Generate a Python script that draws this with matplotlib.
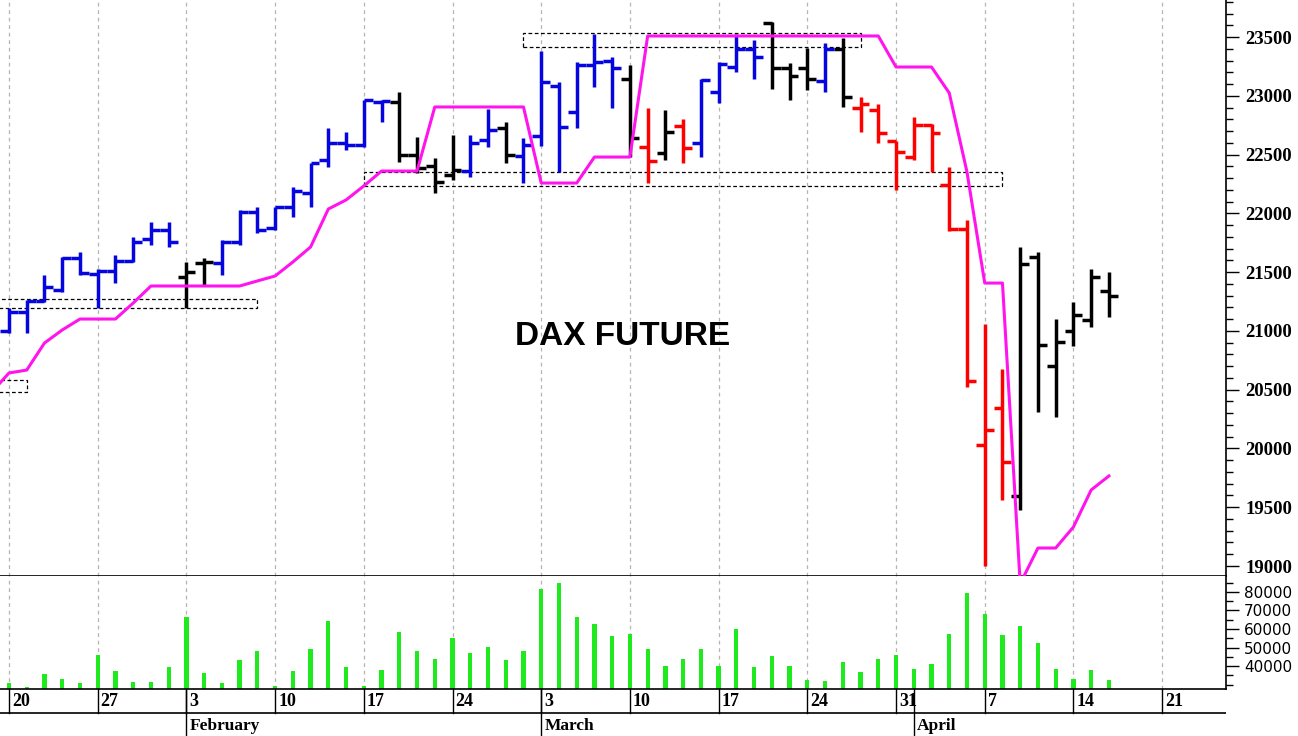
import numpy as np
import pandas as pd
import matplotlib
matplotlib.use('Agg')
import matplotlib.pyplot as plt
from matplotlib.patches import Rectangle
from matplotlib.ticker import MultipleLocator, FixedLocator

# trading days shown (data) and the axis range (to the week after)
dates = pd.bdate_range('2025-01-20', '2025-04-16')
axis_dates = pd.bdate_range('2025-01-20', '2025-04-25')

opens = [21000, 21160, 21255, 21350, 21620, 21480, 21510, 21595, 21780, 21858,
         21459, 21578, 21578, 21756, 22011, 21875, 22054, 22173, 22454, 22598,
         22581, 22947, 22947, 22496, 22403, 22326, 22360, 22624, 22726, 22488,
         22658, 23080, 22862, 23262, 23296, 23143, 22564, 22513, 22743, 22598,
         23032, 23245, 23398, 23620, 23236, 23236, 23126, 23398, 22896, 22879,
         22615, 22479, 22751, 22241, 21867, 20030, 20344, 19596, 21629, 20701,
         20999, 21093, 21340]
highs = [21195, 21263, 21476, 21629, 21671, 21527, 21646, 21799, 21926, 21926,
         21586, 21620, 21773, 22028, 22054, 22054, 22224, 22428, 22726, 22692,
         22964, 22964, 23032, 22649, 22471, 22666, 22666, 22888, 22777, 22641,
         23381, 23117, 23287, 23526, 23330, 23262, 22896, 22879, 22803, 23143,
         23287, 23526, 23474, 23628, 23279, 23406, 23449, 23492, 22990, 22930,
         22615, 22820, 22760, 22394, 21943, 21059, 20676, 21714, 21671, 21101,
         21246, 21527, 21501]
lows = [20982, 20982, 21246, 21331, 21476, 21195, 21408, 21586, 21731, 21714,
        21195, 21391, 21476, 21731, 21833, 21858, 21969, 22054, 22394, 22539,
        22564, 22777, 22437, 22343, 22173, 22284, 22309, 22564, 22428, 22258,
        22573, 22352, 22726, 23075, 22896, 22479, 22258, 22454, 22428, 22479,
        22939, 23202, 23143, 23058, 22964, 23049, 23032, 22905, 22692, 22598,
        22199, 22454, 22352, 21850, 20523, 19000, 19562, 19477, 20310, 20268,
        20872, 21033, 21118]
closes = [21160, 21255, 21373, 21620, 21493, 21510, 21595, 21756, 21858, 21756,
          21501, 21586, 21756, 22011, 21858, 22054, 22190, 22428, 22598, 22581,
          22964, 22956, 22496, 22386, 22267, 22369, 22598, 22709, 22496, 22581,
          23117, 22734, 23262, 23287, 23236, 22641, 22445, 22692, 22556, 23134,
          23270, 23398, 23330, 23236, 23168, 23143, 23398, 22990, 22930, 22683,
          22522, 22751, 22683, 21867, 20574, 20157, 19885, 21569, 20880, 20906,
          21135, 21459, 21297]
# u = up (blue), r = down (red), n = neutral (black)
trend = list('uuuuuuuuuu' 'nnuuuuuuuu' 'uunnnnuunu'
             'uuuuunrnru' 'uuunnnunrr' 'rrrrrrrnnn' 'nnn')
# trailing line, first value is the session before Jan 20
stop_prev = 20475
stop_line = [20642, 20667, 20897, 21008, 21101, 21101, 21101, 21237, 21382, 21382,
             21382, 21382, 21382, 21382, 21425, 21467, 21586, 21714, 22037, 22114,
             22233, 22360, 22360, 22360, 22905, 22905, 22905, 22905, 22905, 22905,
             22258, 22258, 22258, 22479, 22479, 22479, 23509, 23509, 23509, 23509,
             23509, 23509, 23509, 23509, 23509, 23509, 23509, 23509, 23509, 23509,
             23245, 23245, 23245, 23024, 22352, 21407, 21407, 18850, 19153, 19153,
             19332, 19647, 19766]
volume = [30990, 28830, 35500, 33150, 30990, 45770, 37120, 31530, 31530, 39640,
          66490, 36400, 30990, 43420, 47930, 29370, 37120, 49370, 64330, 39640,
          29370, 38020, 58200, 48110, 43600, 54960, 47210, 50270, 43420, 47930,
          81810, 85050, 66490, 62530, 56400, 57480, 49010, 40180, 43960, 49370,
          40180, 60180, 39460, 45590, 40180, 32610, 31710, 42340, 36940, 43960,
          46130, 38560, 40900, 57120, 79640, 67930, 56940, 61620, 52610, 38560,
          33150, 37840, 32610]

# support / resistance zones (bar index from, to, low, high)
zone_from = [-3, -3, 20, 29]
zone_to = [1, 14, 56, 48]
zone_low = [20480, 21192, 22233, 23417]
zone_high = [20582, 21269, 22354, 23531]

W, H = 1298, 736
fig = plt.figure(figsize=(W / 100, H / 100), dpi=100)
ax = fig.add_axes([0, 1 - 576 / H, 1226 / W, 576 / H])
axv = fig.add_axes([0, 1 - 689 / H, 1226 / W, 113 / H], sharex=ax)
axd = fig.add_axes([0, 0, 1226 / W, 47 / H], sharex=ax)

idx = np.arange(len(dates))
pos = np.arange(len(axis_dates))
mondays = pos[axis_dates.weekday == 0]
month_starts = [i for i in pos[1:] if axis_dates[i].month != axis_dates[i - 1].month]

colmap = {'u': '#0505e0', 'r': '#ff0000', 'n': '#000000'}
cols = [colmap[t] for t in trend]

for a in (ax, axv):
    for m in mondays:
        a.axvline(m, color='#b4b4b4', lw=0.9, ls=(0, (3, 3)), zorder=0)

lw = 2.5
ax.vlines(idx, lows, highs, colors=cols, lw=lw, zorder=2)
ax.hlines(opens, idx - 0.5, idx, colors=cols, lw=lw, zorder=2)
ax.hlines(closes, idx, idx + 0.5, colors=cols, lw=lw, zorder=2)
ax.plot(np.r_[-1, idx], [stop_prev] + stop_line, color='#ff14ee', lw=2.2, zorder=3)

for x0, x1, lo, hi in zip(zone_from, zone_to, zone_low, zone_high):
    ax.add_patch(Rectangle((x0, lo), x1 - x0, hi - lo, fill=False, ec='black',
                           lw=0.9, ls=(0, (3, 2)), zorder=1))

ax.text(0.508, 0.415, 'DAX FUTURE', transform=ax.transAxes, ha='center', va='center',
        fontsize=24, fontweight='bold', family='Liberation Sans')

ax.set_xlim(-0.507, 68.6)
ax.set_ylim(18915, 23815)
ax.yaxis.tick_right()
ax.yaxis.set_major_locator(MultipleLocator(500))
ax.yaxis.set_minor_locator(MultipleLocator(100))
ax.tick_params(axis='y', which='major', length=9, width=1, pad=5, direction='out')
ax.tick_params(axis='y', which='minor', length=5, width=1, direction='out')
ax.tick_params(axis='x', which='both', bottom=False, labelbottom=False)
for lab in ax.get_yticklabels():
    lab.set_fontfamily('Liberation Serif')
    lab.set_fontweight('bold')
    lab.set_fontsize(13.5)
ax.spines['left'].set_visible(False)
ax.spines['top'].set_visible(False)
ax.spines['bottom'].set_linewidth(1.2)
ax.spines['right'].set_linewidth(1.2)

axv.bar(idx, volume, width=0.24, color='#1eea1e', zorder=2)
axv.set_ylim(27600, 88625)
axv.yaxis.tick_right()
axv.yaxis.set_major_locator(FixedLocator([40000, 50000, 60000, 70000, 80000]))
axv.yaxis.set_minor_locator(FixedLocator([30000, 35000, 45000, 55000, 65000, 75000, 85000]))
axv.tick_params(axis='y', which='major', length=9, width=1, pad=4, labelsize=11)
axv.tick_params(axis='y', which='minor', length=5, width=1)
axv.tick_params(axis='x', which='both', bottom=False, labelbottom=False)
for lab in axv.get_yticklabels():
    lab.set_fontfamily('DejaVu Sans')
axv.spines['left'].set_visible(False)
axv.spines['top'].set_visible(False)
axv.spines['bottom'].set_linewidth(1.2)
axv.spines['right'].set_linewidth(1.2)

# date rows below the volume panel
axd.set_ylim(0, 47)
axd.axis('off')
axd.axhline(23, color='black', lw=1.2)
for m in mondays:
    axd.plot([m, m], [23, 47], color='black', lw=1)
    axd.text(m + 0.17, 35, str(axis_dates[m].day), ha='left', va='center',
             fontsize=13, fontweight='bold', family='Liberation Serif')
for m in month_starts:
    axd.plot([m, m], [0, 47], color='black', lw=1)
    axd.text(m + 0.2, 10, axis_dates[m].strftime('%B'), ha='left', va='center',
             fontsize=12.5, fontweight='bold', family='Liberation Serif')
axd.set_xlim(-0.507, 68.6)

fig.savefig('out.png', dpi=100)
